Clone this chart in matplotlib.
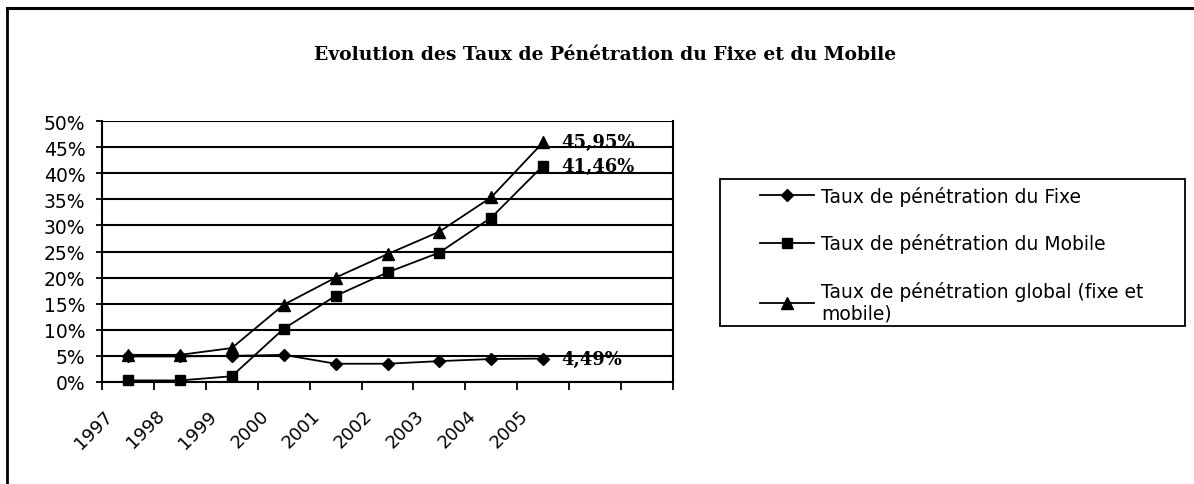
import matplotlib.pyplot as plt
import matplotlib.transforms as mtransforms
from matplotlib.lines import Line2D
from matplotlib.patches import Rectangle
from matplotlib.ticker import FuncFormatter

# data
years = ['1997', '1998', '1999', '2000', '2001', '2002', '2003', '2004', '2005']
fixe = [4.9, 4.9, 5.0, 5.2, 3.5, 3.5, 4.0, 4.4, 4.49]
mobile = [0.3, 0.3, 1.1, 10.2, 16.5, 21.0, 24.8, 31.5, 41.46]
globale = [5.2, 5.2, 6.5, 14.8, 20.0, 24.5, 28.8, 35.4, 45.95]
end_labels = ['4,49%', '41,46%', '45,95%']
n_cats = 11

title = 'Evolution des Taux de Pénétration du Fixe et du Mobile'
names = ['Taux de pénétration du Fixe',
         'Taux de pénétration du Mobile',
         'Taux de pénétration global (fixe et\nmobile)']

plt.rcParams['font.family'] = ['DejaVu Sans']

W, H = 1194, 485
fig = plt.figure(figsize=(W / 100, H / 100), dpi=100)
fig.patch.set_facecolor('white')

ax = fig.add_axes([102 / W, 1 - 383 / H, (673 - 102) / W, (383 - 122) / H])

xs = [i + 0.5 for i in range(len(years))]
series = [fixe, mobile, globale]
markers = ['D', 's', '^']
msizes = [6.5, 7.5, 8.5]
for vals, m, ms, name, lab in zip(series, markers, msizes, names, end_labels):
    ax.plot(xs, [v / 100 for v in vals], color='black', lw=1.3, marker=m,
            markersize=ms, label=name, zorder=3, clip_on=False)
    ax.annotate(lab, (xs[-1], vals[-1] / 100), xytext=(13, 0),
                textcoords='offset points', ha='left', va='center',
                family='DejaVu Serif', weight='bold', fontsize=13)

ax.set_xlim(0, n_cats)
ax.set_ylim(0, 0.5)
ax.set_yticks([i * 0.05 for i in range(11)])
ax.yaxis.set_major_formatter(FuncFormatter(lambda v, p: '%d%%' % round(v * 100)))
ax.grid(axis='y', color='black', lw=1.5)
ax.set_axisbelow(True)

# category boundaries as ticks, labels at the centres
ax.set_xticks(range(n_cats + 1), minor=True)
ax.set_xticks(xs)
ax.set_xticklabels(years, rotation=45, ha='right', va='center',
                   rotation_mode='anchor')
ax.tick_params(axis='x', which='major', length=0, pad=22, labelsize=13)
ax.tick_params(axis='x', which='minor', length=6, width=1.3)
ax.tick_params(axis='y', length=4, width=1.3, pad=8, labelsize=13.5)

shift = mtransforms.ScaledTranslation(-18 / 100, 0, fig.dpi_scale_trans)
for lbl in ax.get_xticklabels():
    lbl.set_transform(lbl.get_transform() + shift)

ax.spines['top'].set_visible(False)
for s in ['left', 'bottom', 'right']:
    ax.spines[s].set_linewidth(1.5)

fig.text(605 / W, 1 - 55 / H, title, ha='center', va='center',
         family='DejaVu Serif', weight='bold', fontsize=13.5)

# legend with a separate frame
leg = fig.legend(loc='upper left', bbox_to_anchor=(760 / W, 1 - 187 / H),
                 frameon=False, fontsize=13.5, handlelength=2.9,
                 handletextpad=0.37, labelspacing=1.46, borderpad=0,
                 borderaxespad=0)
fig.add_artist(Rectangle((720 / W, 1 - 327 / H), (1185 - 720) / W, (327 - 180) / H,
                         transform=fig.transFigure, fill=False,
                         edgecolor='black', lw=1.3))

# outer chart frame (top and left visible)
fig.add_artist(Line2D([7 / W, 1], [1 - 9 / H, 1 - 9 / H], color='black', lw=2.2,
                      transform=fig.transFigure))
fig.add_artist(Line2D([7 / W, 7 / W], [0, 1 - 9 / H], color='black', lw=2,
                      transform=fig.transFigure))

fig.savefig('out.png', dpi=100)
